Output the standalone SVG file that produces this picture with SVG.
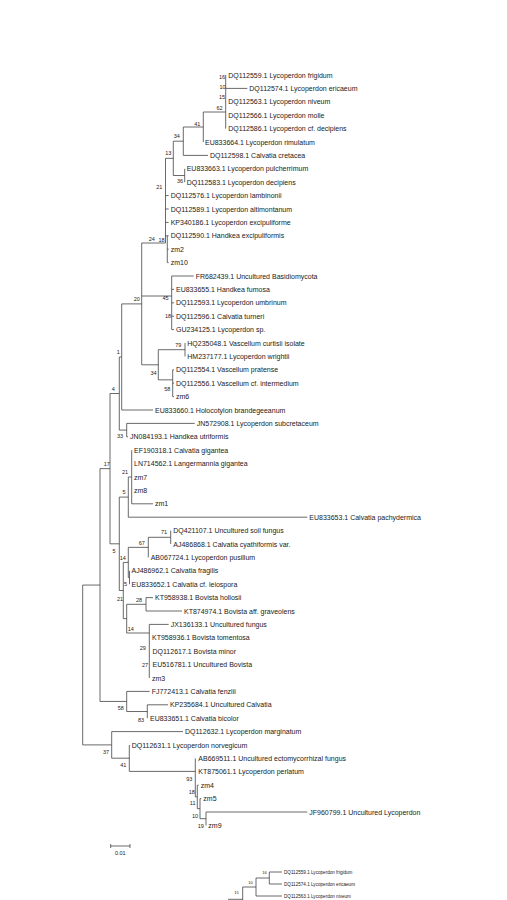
<svg xmlns="http://www.w3.org/2000/svg" width="507" height="900" viewBox="0 0 507 900">
<style>
.t{font-family:"Liberation Sans",Arial,sans-serif;font-size:7px;fill:#222}
.b{font-family:"Liberation Sans",Arial,sans-serif;font-size:5.5px;fill:#222;text-anchor:middle}
.s{font-family:"Liberation Sans",Arial,sans-serif;font-size:4.6px;fill:#222}
.sb{font-family:"Liberation Sans",Arial,sans-serif;font-size:4px;fill:#222;text-anchor:middle}
.e{stroke:#444;stroke-width:0.8;fill:none}
</style>
<rect width="507" height="900" fill="#fff"/>
<g id="connectors" class="e">
<path d="M225.7 75V128.6M203.3 112H225.7M225.7 88.4H247.3M203.3 112V142M183.3 127H203.3M183.3 127V155.4M183.3 155.4H208M173.3 141.2H183.3M184.7 168.8V182.2M173.3 175.5H184.7M173.3 141.2V175.5M165.5 158.35H173.3M165.5 158.35V243M165.5 195.6H168.7M165.5 209H168.7M165.5 222.4H168.7M165.5 235.8H168.7M167.3 236V262.6M167.3 249.2H168.7M167.3 262.6H168.7M141.7 243H165.5"/>
<path d="M171.7 276V329.6M141.7 296H171.7M171.7 276H193.7M171.7 289.4H174M171.7 302.8H174M171.7 316.2H174M171.7 329.6H174"/>
<path d="M185 343V356.4M158.3 349.7H185M172.7 369.8V396.6M172.7 369.8H174M172.7 383.2H174M172.7 396.6H174M158.3 379.85H172.7M158.3 349.7V379.85M141.7 364.8H158.3"/>
<path d="M141.7 243V364.8M121.7 303.9H141.7M121.7 303.9V410M121.7 410H153M119.3 357H121.7M126.7 423.4V436.8M126.7 423.4H194.7M126.7 436.8H128M119.3 430.1H126.7M119.3 357V430.1M110 393.5H119.3"/>
<path d="M131.7 450.2V503.8M131.7 503.8H153M128.3 477H131.7M128.3 517.2H307.3M128.3 477V517.2M119.3 497.1H128.3"/>
<path d="M170.7 530.6V544M148.3 537.3H170.7M148.3 537.3V557.4M128.3 547.35H148.3M129.5 570.8V584.2M128.3 577.5H129.5M128.3 547.35V577.5M123.3 562.4H128.3"/>
<path d="M146 597.6V611M146 597.6H153M146 611H182M126.7 604.3H146M149.3 624.4V678M149.3 624.4H168.7M126.7 633H149.3M126.7 604.3V633M123.3 618.65H126.7M123.3 562.4V618.65M119.3 590.5H123.3M119.3 497.1V590.5M110 543.8H119.3M110 393.5V543.8M100 468.65H110"/>
<path d="M126.7 691.4H149.7M147.3 704.8V718.2M147.3 704.8H168M126.7 711.5H147.3M126.7 691.4V711.5M100 701.45H126.7M100 468.65V701.45M82.7 585.05H100"/>
<path d="M111.7 731.6H183M206 812V825.4M206 812H307.3M200 818.7H206M200 798.6V818.7M200 798.6H201.3M197.3 808.65H200M197.3 785.2V808.65M197.3 785.2H198.7M195.3 796.9H197.3M195.3 758.4V796.9M129.3 771.4H195.3M129.3 745V771.4M111.7 758.2H129.3M111.7 731.6V758.2M82.7 744.9H111.7M82.7 585.05V744.9"/>
<path d="M269.3 872H282M269.3 884H282M269.3 872V884M256 878H269.3M256 896H282M256 878V896M242.7 887H256M242.7 887V900M228 899.3H242.7"/>
</g>
<g id="scale-bar">
<path class="e" d="M110.7 846H130M110.7 844V848M130 844V848"/>
<text class="b" x="120.3" y="855.3">0.01</text>
</g>
<g id="tips">
<g id="tip01"><text class="t" x="228.3" y="77.5">DQ112559.1 Lycoperdon frigidum</text></g>
<g id="tip02"><text class="t" x="249.3" y="90.9">DQ112574.1 Lycoperdon ericaeum</text></g>
<g id="tip03"><text class="t" x="228.3" y="104.3">DQ112563.1 Lycoperdon niveum</text></g>
<g id="tip04"><text class="t" x="228.3" y="117.7">DQ112566.1 Lycoperdon molle</text></g>
<g id="tip05"><text class="t" x="228.3" y="131.1">DQ112586.1 Lycoperdon cf. decipiens</text></g>
<g id="tip06"><text class="t" x="205" y="144.5">EU833664.1 Lycoperdon rimulatum</text></g>
<g id="tip07"><text class="t" x="210" y="157.9">DQ112598.1 Calvatia cretacea</text></g>
<g id="tip08"><text class="t" x="186.7" y="171.3">EU833663.1 Lycoperdon pulcherrimum</text></g>
<g id="tip09"><text class="t" x="186.7" y="184.7">DQ112583.1 Lycoperdon decipiens</text></g>
<g id="tip10"><text class="t" x="170.7" y="198.1">DQ112576.1 Lycoperdon lambinonii</text></g>
<g id="tip11"><text class="t" x="170.7" y="211.5">DQ112589.1 Lycoperdon altimontanum</text></g>
<g id="tip12"><text class="t" x="170.7" y="224.9">KP340186.1 Lycoperdon excipuliforme</text></g>
<g id="tip13"><text class="t" x="170.7" y="238.3">DQ112590.1 Handkea excipuliformis</text></g>
<g id="tip14"><text class="t" x="170.7" y="251.7">zm2</text></g>
<g id="tip15"><text class="t" x="170.7" y="265.1">zm10</text></g>
<g id="tip16"><text class="t" x="195.7" y="278.5">FR682439.1 Uncultured Basidiomycota</text></g>
<g id="tip17"><text class="t" x="176" y="291.9">EU833655.1 Handkea fumosa</text></g>
<g id="tip18"><text class="t" x="176" y="305.3">DQ112593.1 Lycoperdon umbrinum</text></g>
<g id="tip19"><text class="t" x="176" y="318.7">DQ112596.1 Calvatia turneri</text></g>
<g id="tip20"><text class="t" x="176" y="332.1">GU234125.1 Lycoperdon sp.</text></g>
<g id="tip21"><text class="t" x="187.3" y="345.5">HQ235048.1 Vascellum curtisii isolate</text></g>
<g id="tip22"><text class="t" x="187.3" y="358.9">HM237177.1 Lycoperdon wrightii</text></g>
<g id="tip23"><text class="t" x="176" y="372.3">DQ112554.1 Vascellum pratense</text></g>
<g id="tip24"><text class="t" x="176" y="385.7">DQ112556.1 Vascellum cf. intermedium</text></g>
<g id="tip25"><text class="t" x="176" y="399.1">zm6</text></g>
<g id="tip26"><text class="t" x="155" y="412.5">EU833660.1 Holocotylon brandegeeanum</text></g>
<g id="tip27"><text class="t" x="196.7" y="425.9">JN572908.1 Lycoperdon subcretaceum</text></g>
<g id="tip28"><text class="t" x="130" y="439.3">JN084193.1 Handkea utriformis</text></g>
<g id="tip29"><text class="t" x="134" y="452.7">EF190318.1 Calvatia gigantea</text></g>
<g id="tip30"><text class="t" x="134" y="466.1">LN714562.1 Langermannia gigantea</text></g>
<g id="tip31"><text class="t" x="134" y="479.5">zm7</text></g>
<g id="tip32"><text class="t" x="134" y="492.9">zm8</text></g>
<g id="tip33"><text class="t" x="155" y="506.3">zm1</text></g>
<g id="tip34"><text class="t" x="309.3" y="519.7">EU833653.1 Calvatia pachydermica</text></g>
<g id="tip35"><text class="t" x="173.3" y="533.1">DQ421107.1 Uncultured soil fungus</text></g>
<g id="tip36"><text class="t" x="173.3" y="546.5">AJ486868.1 Calvatia cyathiformis var.</text></g>
<g id="tip37"><text class="t" x="150.7" y="559.9">AB067724.1 Lycoperdon pusillum</text></g>
<g id="tip38"><text class="t" x="131.5" y="573.3">AJ486962.1 Calvatia fragilis</text></g>
<g id="tip39"><text class="t" x="131.5" y="586.7">EU833652.1 Calvatia cf. leiospora</text></g>
<g id="tip40"><text class="t" x="155" y="600.1">KT958938.1 Bovista hollosii</text></g>
<g id="tip41"><text class="t" x="184" y="613.5">KT874974.1 Bovista aff. graveolens</text></g>
<g id="tip42"><text class="t" x="170.7" y="626.9">JX136133.1 Uncultured fungus</text></g>
<g id="tip43"><text class="t" x="152" y="640.3">KT958936.1 Bovista tomentosa</text></g>
<g id="tip44"><text class="t" x="152.5" y="653.7">DQ112617.1 Bovista minor</text></g>
<g id="tip45"><text class="t" x="152.5" y="667.1">EU516781.1 Uncultured Bovista</text></g>
<g id="tip46"><text class="t" x="152" y="680.5">zm3</text></g>
<g id="tip47"><text class="t" x="151.7" y="693.9">FJ772413.1 Calvatia fenzlii</text></g>
<g id="tip48"><text class="t" x="170" y="707.3">KP235684.1 Uncultured Calvatia</text></g>
<g id="tip49"><text class="t" x="150" y="720.7">EU833651.1 Calvatia bicolor</text></g>
<g id="tip50"><text class="t" x="185" y="734.1">DQ112632.1 Lycoperdon marginatum</text></g>
<g id="tip51"><text class="t" x="131.7" y="747.5">DQ112631.1 Lycoperdon norvegicum</text></g>
<g id="tip52"><text class="t" x="198.3" y="760.9">AB669511.1 Uncultured ectomycorrhizal fungus</text></g>
<g id="tip53"><text class="t" x="198.3" y="774.3">KT875061.1 Lycoperdon perlatum</text></g>
<g id="tip54"><text class="t" x="200.7" y="787.7">zm4</text></g>
<g id="tip55"><text class="t" x="203.3" y="801.1">zm5</text></g>
<g id="tip56"><text class="t" x="309.3" y="814.5">JF960799.1 Uncultured Lycoperdon</text></g>
<g id="tip57"><text class="t" x="208.3" y="827.9">zm9</text></g>
</g>
<g id="support-values">
<g id="bs16"><text class="b" x="222" y="78.5">16</text></g>
<g id="bs10"><text class="b" x="222.5" y="89">10</text></g>
<g id="bs15"><text class="b" x="222" y="99.3">15</text></g>
<g id="bs62"><text class="b" x="219.5" y="110">62</text></g>
<g id="bs41a"><text class="b" x="197.3" y="126">41</text></g>
<g id="bs34a"><text class="b" x="176.7" y="138">34</text></g>
<g id="bs13"><text class="b" x="168.3" y="155.3">13</text></g>
<g id="bs36"><text class="b" x="180" y="183.3">36</text></g>
<g id="bs21a"><text class="b" x="159.3" y="189.3">21</text></g>
<g id="bs24"><text class="b" x="151.7" y="241">24</text></g>
<g id="bs18a"><text class="b" x="161.6" y="242">18</text></g>
<g id="bs45"><text class="b" x="165.5" y="300">45</text></g>
<g id="bs20"><text class="b" x="136.7" y="301">20</text></g>
<g id="bs18b"><text class="b" x="168" y="317.7">18</text></g>
<g id="bs79"><text class="b" x="178.3" y="347">79</text></g>
<g id="bs1"><text class="b" x="118.3" y="354.3">1</text></g>
<g id="bs34b"><text class="b" x="153.5" y="375">34</text></g>
<g id="bs4"><text class="b" x="113.3" y="391">4</text></g>
<g id="bs58a"><text class="b" x="167.3" y="391.3">58</text></g>
<g id="bs33"><text class="b" x="120" y="437.7">33</text></g>
<g id="bs17"><text class="b" x="106.7" y="466.3">17</text></g>
<g id="bs21b"><text class="b" x="125" y="474.3">21</text></g>
<g id="bs5a"><text class="b" x="124" y="494.3">5</text></g>
<g id="bs71"><text class="b" x="164" y="533.7">71</text></g>
<g id="bs67"><text class="b" x="141.7" y="545.3">67</text></g>
<g id="bs5b"><text class="b" x="114" y="553">5</text></g>
<g id="bs14a"><text class="b" x="122.7" y="559.7">14</text></g>
<g id="bs5c"><text class="b" x="125.5" y="586.3">5</text></g>
<g id="bs21c"><text class="b" x="120" y="601">21</text></g>
<g id="bs28"><text class="b" x="139" y="602">28</text></g>
<g id="bs14b"><text class="b" x="130.7" y="631">14</text></g>
<g id="bs29"><text class="b" x="142.7" y="649.7">29</text></g>
<g id="bs27"><text class="b" x="145" y="667">27</text></g>
<g id="bs58b"><text class="b" x="120.7" y="710.3">58</text></g>
<g id="bs83"><text class="b" x="141" y="722">83</text></g>
<g id="bs37"><text class="b" x="106" y="753.7">37</text></g>
<g id="bs41b"><text class="b" x="123.3" y="767">41</text></g>
<g id="bs93"><text class="b" x="189.3" y="781">93</text></g>
<g id="bs18c"><text class="b" x="191.7" y="793.7">18</text></g>
<g id="bs11"><text class="b" x="192.7" y="805.3">11</text></g>
<g id="bs10b"><text class="b" x="195" y="817.7">10</text></g>
<g id="bs19"><text class="b" x="200.7" y="828">19</text></g>
</g>
<g id="inset-tree">
<g id="inset-tip1"><text class="s" x="284" y="873.7">DQ112559.1 Lycoperdon frigidum</text></g>
<g id="inset-tip2"><text class="s" x="284" y="885.7">DQ112574.1 Lycoperdon ericaeum</text></g>
<g id="inset-tip3"><text class="s" x="284" y="897.7">DQ112563.1 Lycoperdon niveum</text></g>
<text class="sb" x="264.5" y="874.4">16</text>
<text class="sb" x="250.5" y="884.4">10</text>
<text class="sb" x="236.5" y="894">15</text>
</g>
</svg>
